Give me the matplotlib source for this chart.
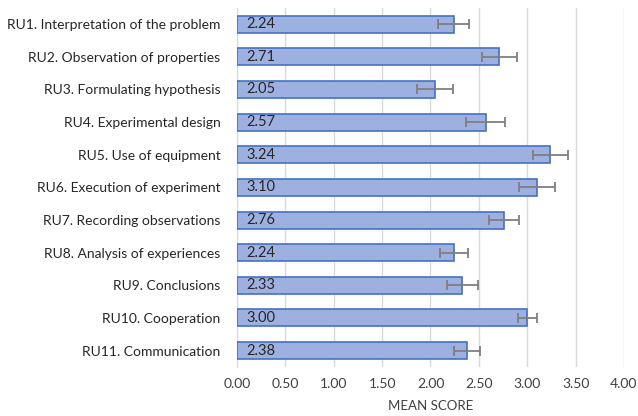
import matplotlib.pyplot as plt
import numpy as np

# ---------- data ----------
categories = [
    "RU1. Interpretation of the problem",
    "RU2. Observation of properties",
    "RU3. Formulating hypothesis",
    "RU4. Experimental design",
    "RU5. Use of equipment",
    "RU6. Execution of experiment",
    "RU7. Recording observations",
    "RU8. Analysis of experiences",
    "RU9. Conclusions",
    "RU10. Cooperation",
    "RU11. Communication",
]
means = [2.24, 2.71, 2.05, 2.57, 3.24, 3.10, 2.76, 2.24, 2.33, 3.00, 2.38]
errors = [0.16, 0.18, 0.185, 0.20, 0.18, 0.19, 0.155, 0.145, 0.16, 0.10, 0.135]
xticks = [0.0, 0.5, 1.0, 1.5, 2.0, 2.5, 3.0, 3.5, 4.0]

plt.rcParams['font.family'] = ['Lato', 'DejaVu Sans']

fig = plt.figure(figsize=(6.38, 4.16), dpi=100)
ax = fig.add_axes([0.3715, 0.118, 0.6065, 0.863])

y = np.arange(len(categories))
ax.barh(y, means, height=0.52, color="#9EB0E0", edgecolor="#4472C4",
        linewidth=1.2, zorder=3)
ax.errorbar(means, y, xerr=errors, fmt="none", ecolor="#7F7F7F",
            elinewidth=1.3, capsize=3.5, capthick=1.3, zorder=4)

for yi, m in zip(y, means):
    ax.annotate(f"{m:.2f}", xy=(0, yi), xytext=(7, 0), textcoords="offset points",
                va="center", ha="left", fontsize=10.5, color="#262626", zorder=5)

ax.set_xlim(0, 4)
ax.set_ylim(len(categories) - 0.5, -0.5)
ax.set_xticks(xticks)
ax.set_xticklabels([f"{t:.2f}" for t in xticks], fontsize=10, color="#404040")
ax.set_yticks(y)
ax.set_yticklabels(categories, fontsize=10, color="#262626")
ax.tick_params(axis="y", length=0, pad=12)
ax.tick_params(axis="x", length=0, pad=8)
ax.set_xlabel("MEAN SCORE", fontsize=9.5, color="#404040", labelpad=7)

ax.grid(axis="x", color="#D9D9D9", linewidth=1, zorder=0)
for s in ["top", "right", "bottom"]:
    ax.spines[s].set_visible(False)
ax.spines["left"].set_color("#D9D9D9")

fig.savefig("out.png", dpi=100)
